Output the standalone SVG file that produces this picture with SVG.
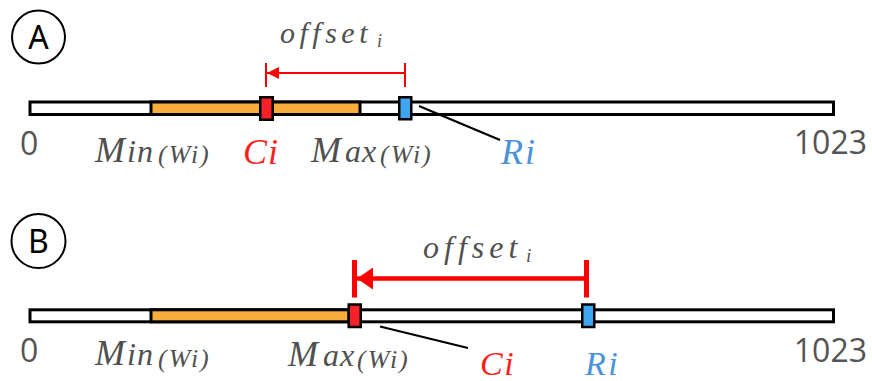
<svg xmlns="http://www.w3.org/2000/svg" width="872" height="381" viewBox="0 0 872 381">
<style>
.bar{fill:#ffffff;stroke:#000;stroke-width:3}
.win{fill:#f9ae3c;stroke:#000;stroke-width:3}
.ci{fill:#f5222a;stroke:#000;stroke-width:2.5}
.ri{fill:#3ea6f0;stroke:#000;stroke-width:2.5}
.badge{fill:none;stroke:#000;stroke-width:2}
.badget{font-family:"Noto Sans","DejaVu Sans",sans-serif;font-size:32px;fill:#000}
.num{font-family:"Open Sans","DejaVu Sans",sans-serif;font-size:32px;fill:#555}
.math{font-family:"Liberation Serif","Times New Roman",serif;font-style:italic;fill:#505050}
.big{font-size:36px}
.mid{font-size:32px}
.sub{font-size:26px;letter-spacing:2px}
.red{fill:#ff1f1f}
.blue{fill:#4a93db}
.lead{stroke:#000;stroke-width:2.2;fill:none}
.brk{stroke:#ff0000;fill:none}
</style>
<defs>
<marker id="arrA" markerUnits="userSpaceOnUse" viewBox="0 0 12 12" markerWidth="12" markerHeight="12" refX="12" refY="6" orient="auto"><path d="M0,0 L12,6 L0,12 z" fill="#ff0000"/></marker>
<marker id="arrB" markerUnits="userSpaceOnUse" viewBox="0 0 16 22" markerWidth="16" markerHeight="22" refX="16" refY="11" orient="auto"><path d="M0,0 L16,11 L0,22 z" fill="#ff0000"/></marker>
</defs>

<g id="panelA">
<g id="badgeA"><circle class="badge" cx="38.5" cy="37" r="26.5"/><text class="badget" x="38.5" y="48.5" text-anchor="middle">A</text></g>
<g id="barA"><rect class="bar" x="30" y="102" width="803.5" height="12.5"/></g>
<g id="windowA"><rect class="win" x="151" y="102" width="209" height="12.5"/></g>
<g id="CiA"><rect class="ci" x="260.25" y="97.25" width="12.5" height="22.5"/></g>
<g id="RiA"><rect class="ri" x="399.25" y="97.25" width="12" height="22"/></g>
<g id="labelsA">
<text class="num" x="20" y="155">0</text>
<text class="num" x="867" y="154" text-anchor="end">1023</text>
<text class="math"><tspan class="big" x="95" y="161.5">M</tspan><tspan class="mid" x="127" letter-spacing="1">in</tspan><tspan class="sub" x="158" dy="1.5">(Wi)</tspan></text>
<text class="math big red" x="243" y="164" letter-spacing="1">Ci</text>
<text class="math"><tspan class="big" x="311" y="161.5">M</tspan><tspan class="mid" x="345" letter-spacing="1">ax</tspan><tspan class="sub" x="380" dy="1.5">(Wi)</tspan></text>
<text class="math big blue" x="501" y="164" letter-spacing="2">Ri</text>
<text class="math" font-size="30" x="280" y="43" letter-spacing="4.5">offset<tspan font-size="18" x="377" dy="4" letter-spacing="0">i</tspan></text>
</g>
</g>

<g id="panelB">
<g id="badgeB"><circle class="badge" cx="38.5" cy="241" r="27"/><text class="badget" x="38.5" y="252.5" text-anchor="middle">B</text></g>
<g id="barB"><rect class="bar" x="30" y="309.8" width="803.5" height="12"/></g>
<g id="windowB"><rect class="win" x="151" y="309.8" width="198" height="12"/></g>
<g id="CiB"><rect class="ci" x="348.75" y="304.5" width="12" height="22.5"/></g>
<g id="RiB"><rect class="ri" x="582.25" y="304.5" width="12" height="22.5"/></g>
<g id="labelsB">
<text class="num" x="20" y="362">0</text>
<text class="num" x="867" y="362" text-anchor="end">1023</text>
<text class="math"><tspan class="big" x="95" y="365">M</tspan><tspan class="mid" x="127" letter-spacing="1">in</tspan><tspan class="sub" x="158" dy="1.5">(Wi)</tspan></text>
<text class="math"><tspan class="big" x="288" y="366">M</tspan><tspan class="mid" x="323" letter-spacing="1">ax</tspan><tspan class="sub" x="357" dy="1.5">(Wi)</tspan></text>
<text class="math red" font-size="34" x="480" y="375" letter-spacing="1.5">Ci</text>
<text class="math blue" font-size="34" x="585" y="375" letter-spacing="2.5">Ri</text>
<text class="math" font-size="32" x="423" y="258" letter-spacing="5">offset<tspan font-size="19" x="526" dy="4" letter-spacing="0">i</tspan></text>
</g>
</g>

<g id="connectors">
<line class="lead" x1="419" y1="106" x2="500" y2="140"/>
<line class="lead" x1="380" y1="326.5" x2="468" y2="348"/>
<line class="brk" stroke-width="2" x1="266" y1="63" x2="266" y2="87"/>
<line class="brk" stroke-width="2" x1="405" y1="63" x2="405" y2="87"/>
<line class="brk" stroke-width="2" x1="405" y1="73" x2="267" y2="73" marker-end="url(#arrA)"/>
<line class="brk" stroke-width="5" x1="354.5" y1="260" x2="354.5" y2="297.5"/>
<line class="brk" stroke-width="5" x1="586.5" y1="260" x2="586.5" y2="297.5"/>
<line class="brk" stroke-width="4.5" x1="586" y1="278.5" x2="357" y2="278.5" marker-end="url(#arrB)"/>
</g>
</svg>
